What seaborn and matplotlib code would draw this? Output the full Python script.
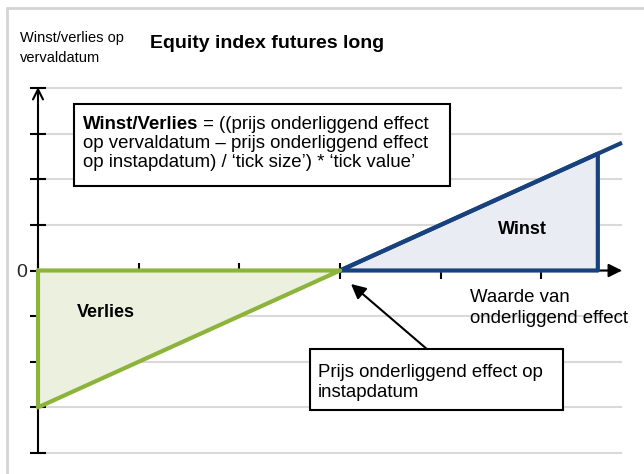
import matplotlib
matplotlib.use("Agg")
import matplotlib.pyplot as plt
from matplotlib.patches import Rectangle
from matplotlib.lines import Line2D
from matplotlib.text import Annotation
import seaborn as sns
import pandas as pd

# payoff data (x = waarde onderliggend effect, y = winst/verlies)
loss_x = [0, 3, 0, 0]
loss_y = [0, 0, -3, 0]
gain_x = [3, 5.56, 5.56, 3]
gain_y = [0, 0, 2.56, 0]
payoff_x = [3, 5.8]
payoff_y = [0, 2.8]
y_levels = [-4, -3, -2, -1, 0, 1, 2, 3, 4]
x_levels = [0, 1, 2, 3, 4, 5]

sns.set_style("white")
plt.rcParams['font.family'] = ['Liberation Sans', 'DejaVu Sans']
plt.rcParams['text.color'] = 'black'

W, H = 644, 474
FS = 13.4
fig = plt.figure(figsize=(W / 100, H / 100), dpi=100)

def fx(px):
    return px / W

def fy(py):
    return 1 - py / H

ax = fig.add_axes([fx(38), fy(453), (622 - 38) / W, (453 - 88) / H])
ax.set_xlim(0, 5.8)
ax.set_ylim(-4, 4)
for s in ax.spines.values():
    s.set_visible(False)
ax.spines['bottom'].set_position(('data', 0))

# gridlines
ax.hlines(y_levels, 0, 5.8, color='#d9d9d9', lw=1.5, zorder=0, clip_on=False)

# fills
ax.fill(loss_x, loss_y, color='#ebf1de', zorder=1, clip_on=False)
ax.fill(gain_x, gain_y, color='#e9ecf3', zorder=1, clip_on=False)

# axes lines with arrows
ax.annotate('', xy=(0, 4.02), xytext=(0, -4), xycoords='data',
            arrowprops=dict(arrowstyle='->', color='black', lw=1.5, mutation_scale=18,
                            shrinkA=0, shrinkB=0), annotation_clip=False)
ax.annotate('', xy=(5.8, 0), xytext=(0, 0), xycoords='data',
            arrowprops=dict(arrowstyle='-|>', color='black', lw=1.5, mutation_scale=20,
                            shrinkA=0, shrinkB=0), annotation_clip=False)

# payoff lines
df_loss = pd.DataFrame({'x': loss_x, 'y': loss_y})
df_gain = pd.DataFrame({'x': gain_x, 'y': gain_y})
df_pay = pd.DataFrame({'x': payoff_x, 'y': payoff_y})
sns.lineplot(data=df_gain, x='x', y='y', sort=False, estimator=None, ax=ax,
             color='#17427d', lw=3, zorder=3, clip_on=False)
sns.lineplot(data=df_pay, x='x', y='y', sort=False, estimator=None, ax=ax,
             color='#17427d', lw=3, zorder=3, clip_on=False, solid_capstyle='butt')
sns.lineplot(data=df_loss, x='x', y='y', sort=False, estimator=None, ax=ax,
             color='#8db43a', lw=3, zorder=3, clip_on=False)

ax.set_xticks(x_levels)
ax.set_xticklabels([])
ax.set_yticks(y_levels)
ax.set_yticklabels(['0' if v == 0 else '' for v in y_levels], fontsize=14)
ax.tick_params(axis='both', direction='inout', length=12, width=1.5, color='black',
               pad=2, bottom=True, left=True)
ax.set_xlabel('')
ax.set_ylabel('')

# outer frame
fig.add_artist(Line2D([fx(7), fx(7)], [fy(8), 0], color='#d4d4d4', lw=2))
fig.add_artist(Line2D([fx(7), 1], [fy(8), fy(8)], color='#d4d4d4', lw=2))

# texts
fig.text(fx(20), fy(42), 'Winst/verlies op', fontsize=10.5, va='baseline')
fig.text(fx(20), fy(62), 'vervaldatum', fontsize=10.5, va='baseline')
fig.text(fx(150), fy(48), 'Equity index futures long', fontsize=14, weight='bold', va='baseline')

fig.add_artist(Rectangle((fx(74), fy(186)), (450 - 74) / W, (186 - 104) / H,
                         transform=fig.transFigure, facecolor='white', edgecolor='black', lw=1.5))
t1 = fig.text(fx(83), fy(129), 'Winst/Verlies', fontsize=FS, weight='bold', va='baseline')
rest = Annotation(' = ((prijs onderliggend effect', xy=(1, 0), xycoords=t1, fontsize=FS,
                  va='bottom', ha='left', annotation_clip=False)
rest.set_zorder(4)
fig.add_artist(rest)
fig.text(fx(83), fy(148), 'op vervaldatum \u2013 prijs onderliggend effect', fontsize=FS, va='baseline')
fig.text(fx(83), fy(167), 'op instapdatum) / \u2018tick size\u2019) * \u2018tick value\u2019', fontsize=FS, va='baseline')

fig.text(fx(77), fy(317), 'Verlies', fontsize=13, weight='bold', va='baseline')
fig.text(fx(498), fy(234), 'Winst', fontsize=13, weight='bold', va='baseline')
fig.text(fx(470), fy(302), 'Waarde van', fontsize=FS, va='baseline')
fig.text(fx(470), fy(323), 'onderliggend effect', fontsize=FS, va='baseline')

fig.add_artist(Rectangle((fx(310), fy(410)), (563 - 310) / W, (410 - 349) / H,
                         transform=fig.transFigure, facecolor='white', edgecolor='black', lw=1.5))
fig.text(fx(318), fy(377), 'Prijs onderliggend effect op', fontsize=FS, va='baseline')
fig.text(fx(318), fy(397), 'instapdatum', fontsize=FS, va='baseline')
ax.annotate('', xy=(fx(351), fy(284)), xycoords='figure fraction',
            xytext=(fx(428), fy(350)), textcoords='figure fraction',
            arrowprops=dict(arrowstyle='-|>', color='black', lw=1.5, mutation_scale=22,
                            shrinkA=0, shrinkB=0), annotation_clip=False)

fig.savefig('out.png', dpi=100)
